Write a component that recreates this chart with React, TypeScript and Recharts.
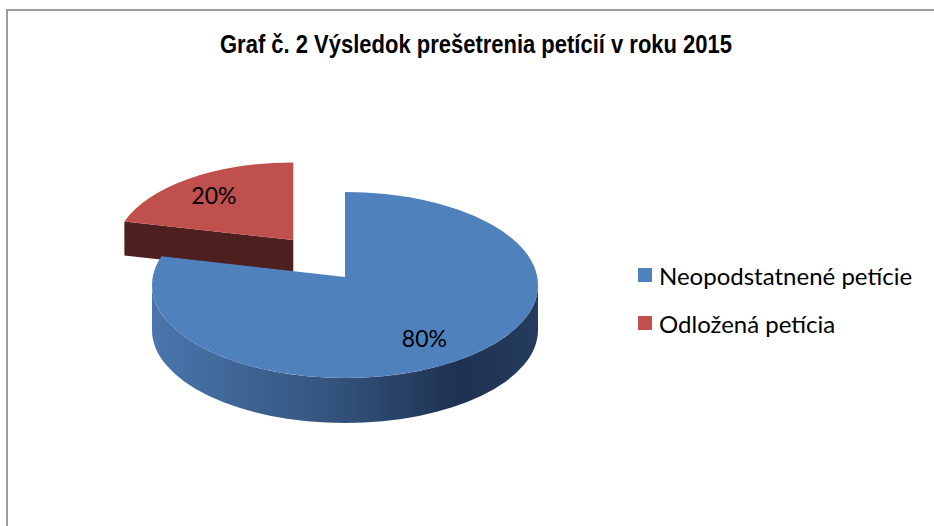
import { Cell, Legend, Pie, PieChart } from 'recharts';

const TITLE = 'Graf č. 2 Výsledok prešetrenia petícií v roku 2015';
// drawing order: the exploded slice sits behind, so it goes first
const NAMES = ['Odložená petícia', 'Neopodstatnené petície'];
const SHARES = [20, 80];
const LEGEND_ORDER = ['Neopodstatnené petície', 'Odložená petícia'];
const EXPLODED = 'Odložená petícia';

const TOP_FILL: Record<string, string> = {
  'Neopodstatnené petície': '#4f81bd',
  'Odložená petícia': '#c0504d',
};
const SIDE_FILL: Record<string, string> = {
  'Neopodstatnené petície': 'url(#wallBlue)',
  'Odložená petícia': '#4d1f1e',
};

const TILT = 0.482;
const DEPTH = 45;
const LIFT = 8;
const EXPLODE = 88;
const EXPLODE_Y = 0.52;
// the pulled-out slice sits further back, so it is drawn a bit smaller
const BACK_SCALE = 0.92;
const BACK_DEPTH = 34;
const LABEL_K = 0.7;
const FONT = 'Lato, "Open Sans", sans-serif';

const data = NAMES.map((name, i) => ({ name, value: SHARES[i] }));
const RAD = Math.PI / 180;

function sliceName(props: any) {
  return props.payload?.name ?? props.name ?? NAMES[props.index];
}

function center(props: any) {
  const { cx, cy, midAngle } = props;
  if (sliceName(props) !== EXPLODED) return [cx, cy];
  return [
    cx + Math.cos(midAngle * RAD) * EXPLODE,
    cy - Math.sin(midAngle * RAD) * EXPLODE * EXPLODE_Y,
  ];
}

function Slice3D(props: any) {
  const { outerRadius, startAngle, endAngle } = props;
  const name = sliceName(props);
  const back = name === EXPLODED;
  const [ox, oy] = center(props);
  const rx = outerRadius * (back ? BACK_SCALE : 1);
  const ry = rx * TILT;
  const D = back ? BACK_DEPTH : DEPTH;
  const P = (a: number, dz = 0) =>
    `${ox + rx * Math.cos(a * RAD)},${oy - ry * Math.sin(a * RAD) + dz}`;
  const V = (dz = 0) => `${ox},${oy - LIFT + dz}`;
  const hi = Math.max(startAngle, endAngle);
  const lo = Math.min(startAngle, endAngle);
  const large = hi - lo > 180 ? 1 : 0;

  const sides: string[] = [];
  for (let k = -2; k <= 1; k++) {
    const a = Math.max(lo, -180 + 360 * k);
    const b = Math.min(hi, 360 * k);
    if (b > a) {
      const l = b - a > 180 ? 1 : 0;
      sides.push(
        `M${P(b)} A${rx},${ry} 0 ${l} 1 ${P(a)} L${P(a, D)} A${rx},${ry} 0 ${l} 0 ${P(b, D)} Z`,
      );
    }
  }
  if (Math.cos(hi * RAD) < -0.01) {
    sides.push(`M${V()} L${P(hi)} L${P(hi, D)} L${V(D)} Z`);
  }
  if (Math.cos(lo * RAD) > 0.01) {
    sides.push(`M${V()} L${P(lo)} L${P(lo, D)} L${V(D)} Z`);
  }

  return (
    <g>
      <defs>
        <linearGradient id="wallBlue" x1="0" y1="0" x2="1" y2="0">
          <stop offset="0%" stopColor="#4a76ad" />
          <stop offset="45%" stopColor="#34557f" />
          <stop offset="80%" stopColor="#1e3150" />
          <stop offset="100%" stopColor="#253c5e" />
        </linearGradient>
      </defs>
      {sides.map((d, i) => (
        <path key={i} d={d} fill={SIDE_FILL[name]} stroke="none" />
      ))}
      <path
        d={`M${V()} L${P(hi)} A${rx},${ry} 0 ${large} 1 ${P(lo)} Z`}
        fill={TOP_FILL[name]}
        stroke="none"
      />
    </g>
  );
}

function renderLabel(props: any) {
  const { outerRadius, midAngle, percent } = props;
  const [ox, oy] = center(props);
  const x = ox + Math.cos(midAngle * RAD) * outerRadius * LABEL_K;
  const y = oy - Math.sin(midAngle * RAD) * outerRadius * TILT * LABEL_K;
  return (
    <text
      x={x}
      y={y}
      textAnchor="middle"
      dominantBaseline="central"
      fontFamily={FONT}
      fontSize={23}
      fill="#000"
    >
      {`${Math.round(percent * 100)}%`}
    </text>
  );
}

function LegendBox({ payload }: any) {
  const items = LEGEND_ORDER.map((n) => (payload || []).find((p: any) => p.value === n)).filter(
    Boolean,
  );
  return (
    <div style={{ fontFamily: FONT, fontSize: 24, color: '#000' }}>
      {items.map((it: any) => (
        <div key={it.value} style={{ display: 'flex', alignItems: 'center', height: 48 }}>
          <span
            style={{ width: 14, height: 14, background: it.color, marginRight: 7, flex: 'none' }}
          />
          <span style={{ whiteSpace: 'nowrap' }}>{it.value}</span>
        </div>
      ))}
    </div>
  );
}

export default function App() {
  return (
    <div
      style={{
        position: 'fixed',
        left: 0,
        top: 0,
        width: 934,
        height: 526,
        overflow: 'hidden',
        background: '#fff',
      }}
    >
      <div
        style={{
          position: 'absolute',
          left: 6,
          top: 9,
          width: 1000,
          height: 600,
          border: '2px solid #9c9c9c',
        }}
      />
      <svg width={934} height={70} style={{ position: 'absolute', left: 0, top: 0 }}>
        <text
          x={220}
          y={53}
          textLength={512}
          lengthAdjust="spacingAndGlyphs"
          fontFamily='"Liberation Sans", Arial, sans-serif'
          fontWeight="bold"
          fontSize={25}
          fill="#000"
        >
          {TITLE}
        </text>
      </svg>
      <div style={{ position: 'absolute', left: 0, top: 0 }}>
        <PieChart width={934} height={526} margin={{ top: 0, right: 0, bottom: 0, left: 0 }}>
          <Pie
            data={data}
            dataKey="value"
            nameKey="name"
            cx={345}
            cy={285}
            outerRadius={193}
            startAngle={162}
            endAngle={-198}
            stroke="none"
            shape={Slice3D}
            activeShape={Slice3D}
            inactiveShape={Slice3D}
            label={renderLabel}
            labelLine={false}
            isAnimationActive={false}
          >
            {data.map((d) => (
              <Cell key={d.name} fill={TOP_FILL[d.name]} />
            ))}
          </Pie>
          <Legend
            layout="vertical"
            align="right"
            verticalAlign="top"
            content={LegendBox}
            wrapperStyle={{ left: 638, top: 251, width: 300 }}
          />
        </PieChart>
      </div>
    </div>
  );
}
